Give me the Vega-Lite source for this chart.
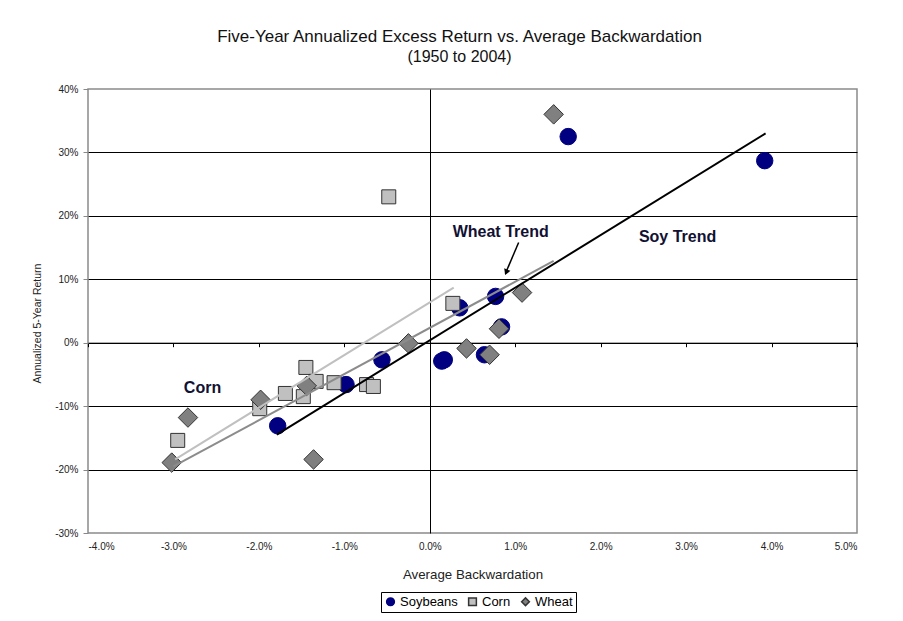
{
  "$schema": "https://vega.github.io/schema/vega-lite/v6.json",
  "width": 769,
  "height": 444,
  "autosize": {"type": "none"},
  "padding": {"left": 88, "top": 89, "right": 46, "bottom": 88},
  "background": "white",
  "config": {
    "font": "Liberation Sans",
    "view": {"stroke": "#8a8a8a", "strokeWidth": 1.5},
    "legend": {
      "strokeColor": "#000",
      "padding": 3,
      "symbolSize": 60,
      "labelFontSize": 13,
      "labelColor": "#000",
      "columnPadding": 7,
      "labelOffset": 3
    }
  },
  "title": {
    "text": "Five-Year Annualized Excess Return vs. Average Backwardation",
    "subtitle": "(1950 to 2004)",
    "fontSize": 17,
    "subtitleFontSize": 16,
    "fontWeight": "normal",
    "font": "Liberation Sans",
    "subtitleFont": "Liberation Sans",
    "color": "#111",
    "subtitleColor": "#111",
    "anchor": "middle",
    "dx": -13,
    "offset": 18,
    "subtitlePadding": 3
  },
  "datasets": {
    "points": [
      {"series": "Soybeans", "x": 1.62, "y": 32.5},
      {"series": "Soybeans", "x": 3.92, "y": 28.7},
      {"series": "Soybeans", "x": 0.77, "y": 7.3},
      {"series": "Soybeans", "x": 0.35, "y": 5.5},
      {"series": "Soybeans", "x": 0.84, "y": 2.5},
      {"series": "Soybeans", "x": -0.56, "y": -2.7},
      {"series": "Soybeans", "x": 0.14, "y": -2.9},
      {"series": "Soybeans", "x": 0.17, "y": -2.7},
      {"series": "Soybeans", "x": 0.64, "y": -1.9},
      {"series": "Soybeans", "x": -0.98, "y": -6.6},
      {"series": "Soybeans", "x": -1.78, "y": -13.1},
      {"series": "Corn", "x": -0.48, "y": 23.0},
      {"series": "Corn", "x": 0.27, "y": 6.2},
      {"series": "Corn", "x": -1.45, "y": -3.9},
      {"series": "Corn", "x": -1.33, "y": -6.1},
      {"series": "Corn", "x": -1.12, "y": -6.3},
      {"series": "Corn", "x": -0.74, "y": -6.6},
      {"series": "Corn", "x": -0.66, "y": -6.9},
      {"series": "Corn", "x": -1.69, "y": -8.0},
      {"series": "Corn", "x": -1.48, "y": -8.5},
      {"series": "Corn", "x": -1.99, "y": -10.4},
      {"series": "Corn", "x": -2.95, "y": -15.4},
      {"series": "Wheat", "x": 1.45, "y": 36.0},
      {"series": "Wheat", "x": 1.08, "y": 7.9},
      {"series": "Wheat", "x": 0.81, "y": 2.2},
      {"series": "Wheat", "x": 0.70, "y": -1.9},
      {"series": "Wheat", "x": 0.43, "y": -0.9},
      {"series": "Wheat", "x": -0.25, "y": -0.1},
      {"series": "Wheat", "x": -1.44, "y": -6.8},
      {"series": "Wheat", "x": -1.98, "y": -9.0},
      {"series": "Wheat", "x": -2.83, "y": -11.8},
      {"series": "Wheat", "x": -3.02, "y": -18.9},
      {"series": "Wheat", "x": -1.36, "y": -18.4}
    ],
    "trends": [
      {"trend": "Corn", "x": -2.98, "y": -18.4},
      {"trend": "Corn", "x": 0.28, "y": 8.7},
      {"trend": "Wheat", "x": -3.0, "y": -19.5},
      {"trend": "Wheat", "x": 1.45, "y": 12.9},
      {"trend": "Soy", "x": -1.79, "y": -14.5},
      {"trend": "Soy", "x": 3.93, "y": 33.0}
    ],
    "labels": [
      {"label": "Corn", "x": -2.66, "y": -7.2},
      {"label": "Wheat Trend", "x": 0.83, "y": 17.5},
      {"label": "Soy Trend", "x": 2.9, "y": 16.7}
    ],
    "arrow": [
      {"x": 1.04, "y": 15.8, "x2": 0.885, "y2": 10.9}
    ],
    "arrowhead": [
      {"x": 0.895, "y": 11.1}
    ]
  },
  "resolve": {"axis": {"x": "independent", "y": "independent"}},
  "layer": [
    {
      "data": {"name": "points"},
      "transform": [{"filter": "datum.series === 'Soybeans'"}],
      "mark": {"type": "point", "filled": true, "strokeWidth": 1, "opacity": 1, "size": 270},
      "encoding": {
        "x": {
          "field": "x", "type": "quantitative",
          "scale": {"domain": [-4, 5], "nice": false, "zero": false},
          "axis": {
            "orient": "bottom",
            "values": [-4, -3, -2, -1, 0, 1, 2, 3, 4, 5],
            "labelExpr": "replace(format(datum.value, '.1f'), '\u2212', '-') + '%'",
            "domain": false, "ticks": false, "grid": false,
            "labelPadding": 8, "labelFontSize": 10, "labelColor": "#222",
            "labelFont": "Liberation Sans",
            "title": "Average Backwardation",
            "titleFontSize": 13.3, "titleFontWeight": "normal", "titleColor": "#222",
            "titleY": 41, "titleBaseline": "middle"
          }
        },
        "y": {
          "field": "y", "type": "quantitative",
          "scale": {"domain": [-30, 40], "nice": false, "zero": false},
          "axis": {
            "orient": "left",
            "values": [-30, -20, -10, 0, 10, 20, 30, 40],
            "labelExpr": "replace(format(datum.value, 'd'), '\u2212', '-') + '%'",
            "domain": false,
            "grid": true,
            "gridColor": {"condition": {"test": "datum.value === 40 || datum.value === -30", "value": "transparent"}, "value": "#000"},
            "gridWidth": 1,
            "ticks": true, "tickSize": 5, "tickColor": "#888",
            "labelPadding": 5, "labelFontSize": 10, "labelColor": "#222",
            "title": "Annualized 5-Year Return",
            "titleFontSize": 10.5, "titleFontWeight": "normal", "titleColor": "#222",
            "titleX": -51, "titleY": 234, "titleAlign": "center", "titleBaseline": "middle", "titleAngle": -90
          }
        },
        "shape": {
          "field": "series", "type": "nominal",
          "scale": {"domain": ["Soybeans", "Corn", "Wheat"], "range": ["circle", "square", "diamond"]},
          "legend": {
            "orient": "none", "legendX": 293, "legendY": 503,
            "direction": "horizontal", "title": null
          }
        },
        "fill": {
          "field": "series", "type": "nominal",
          "scale": {"domain": ["Soybeans", "Corn", "Wheat"], "range": ["#000080", "#C0C0C0", "#808080"]}
        },
        "stroke": {
          "field": "series", "type": "nominal",
          "scale": {"domain": ["Soybeans", "Corn", "Wheat"], "range": ["#000080", "#333333", "#333333"]}
        }
      }
    },
    {
      "data": {"name": "points"},
      "transform": [{"filter": "datum.series === 'Corn'"}],
      "mark": {"type": "point", "filled": true, "strokeWidth": 1, "opacity": 1, "size": 196},
      "encoding": {
        "x": {"field": "x", "type": "quantitative", "axis": null},
        "y": {"field": "y", "type": "quantitative", "axis": null},
        "shape": {"field": "series", "type": "nominal"},
        "fill": {"field": "series", "type": "nominal"},
        "stroke": {"field": "series", "type": "nominal"}
      }
    },
    {
      "data": {"name": "points"},
      "transform": [{"filter": "datum.series === 'Wheat'"}],
      "mark": {"type": "point", "filled": true, "strokeWidth": 1, "opacity": 1, "size": 380},
      "encoding": {
        "x": {"field": "x", "type": "quantitative", "axis": null},
        "y": {"field": "y", "type": "quantitative", "axis": null},
        "shape": {"field": "series", "type": "nominal"},
        "fill": {"field": "series", "type": "nominal"},
        "stroke": {"field": "series", "type": "nominal"}
      }
    },
    {
      "data": {"name": "trends"},
      "transform": [{"filter": "datum.trend === 'Corn'"}],
      "mark": {"type": "line", "color": "#C0C0C0", "strokeWidth": 2},
      "encoding": {
        "x": {
          "field": "x", "type": "quantitative",
          "axis": {
            "orient": "bottom", "offset": -190.3,
            "values": [-4, -3, -2, -1, 0, 1, 2, 3, 4, 5],
            "labels": false, "ticks": true, "tickSize": 4, "tickColor": "#000",
            "domain": true, "domainColor": "#000", "domainWidth": 1,
            "grid": true,
            "gridColor": {"condition": {"test": "datum.value === 0", "value": "#000"}, "value": "transparent"},
            "gridWidth": 1,
            "title": null
          }
        },
        "y": {"field": "y", "type": "quantitative", "axis": null}
      }
    },
    {
      "data": {"name": "trends"},
      "transform": [{"filter": "datum.trend === 'Wheat'"}],
      "mark": {"type": "line", "color": "#8C8C8C", "strokeWidth": 2},
      "encoding": {
        "x": {"field": "x", "type": "quantitative", "axis": null},
        "y": {"field": "y", "type": "quantitative", "axis": null}
      }
    },
    {
      "data": {"name": "trends"},
      "transform": [{"filter": "datum.trend === 'Soy'"}],
      "mark": {"type": "line", "color": "#000000", "strokeWidth": 2},
      "encoding": {
        "x": {"field": "x", "type": "quantitative", "axis": null},
        "y": {"field": "y", "type": "quantitative", "axis": null}
      }
    },
    {
      "data": {"name": "labels"},
      "mark": {"type": "text", "fontSize": 16, "fontWeight": "bold", "color": "#111133", "align": "center", "baseline": "middle"},
      "encoding": {
        "x": {"field": "x", "type": "quantitative", "axis": null},
        "y": {"field": "y", "type": "quantitative", "axis": null},
        "text": {"field": "label"}
      }
    },
    {
      "data": {"name": "arrow"},
      "mark": {"type": "rule", "color": "#000", "strokeWidth": 1.5},
      "encoding": {
        "x": {"field": "x", "type": "quantitative", "axis": null},
        "y": {"field": "y", "type": "quantitative", "axis": null},
        "x2": {"field": "x2"},
        "y2": {"field": "y2"}
      }
    },
    {
      "data": {"name": "arrowhead"},
      "mark": {"type": "point", "shape": "triangle-down", "filled": true, "color": "#000", "size": 45, "angle": 22, "opacity": 1},
      "encoding": {
        "x": {"field": "x", "type": "quantitative", "axis": null},
        "y": {"field": "y", "type": "quantitative", "axis": null}
      }
    }
  ]
}
